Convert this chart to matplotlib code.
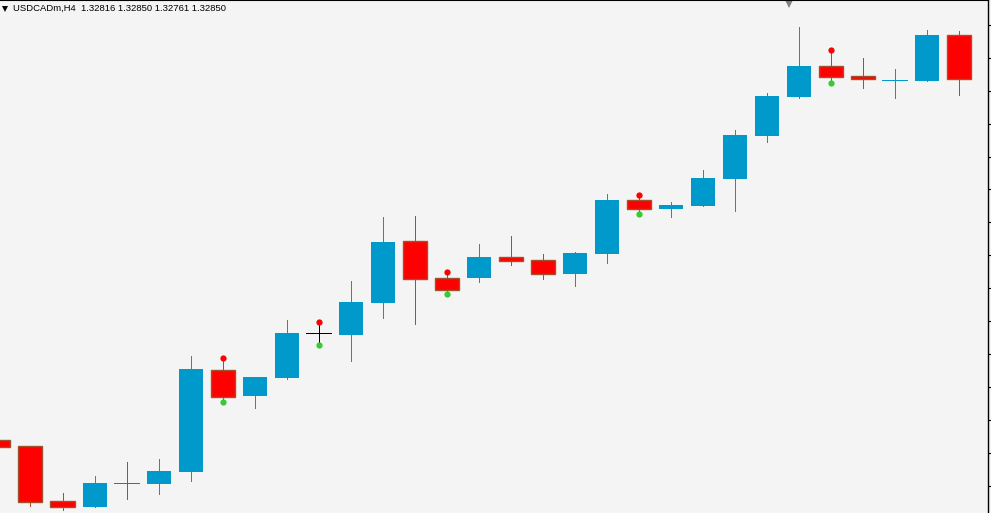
import numpy as np
import matplotlib.pyplot as plt

# USDCADm H4 bars (price)
opens = [1.31738, 1.31720, 1.31553, 1.31535, 1.31608, 1.31605, 1.31641, 1.31951,
         1.31872, 1.31927, 1.32063, 1.32058, 1.32155, 1.32343, 1.32231, 1.32231,
         1.32295, 1.32286, 1.32243, 1.32304, 1.32468, 1.32441, 1.32450, 1.32532,
         1.32663, 1.32781, 1.32875, 1.32845, 1.32831, 1.32830, 1.32970]
highs = [1.31742, 1.31720, 1.31577, 1.31629, 1.31672, 1.31681, 1.31994, 1.31979,
         1.31930, 1.32103, 1.32088, 1.32222, 1.32416, 1.32419, 1.32240, 1.32334,
         1.32359, 1.32304, 1.32310, 1.32486, 1.32474, 1.32462, 1.32559, 1.32681,
         1.32793, 1.32994, 1.32915, 1.32900, 1.32866, 1.32985, 1.32982]
lows = [1.31712, 1.31538, 1.31526, 1.31535, 1.31559, 1.31574, 1.31614, 1.31863,
        1.31836, 1.31924, 1.32036, 1.31979, 1.32109, 1.32091, 1.32192, 1.32219,
        1.32270, 1.32228, 1.32207, 1.32276, 1.32435, 1.32416, 1.32450, 1.32435,
        1.32644, 1.32778, 1.32833, 1.32808, 1.32778, 1.32830, 1.32787]
closes = [1.31717, 1.31550, 1.31535, 1.31608, 1.31607, 1.31644, 1.31954, 1.31869,
          1.31930, 1.32064, 1.32063, 1.32158, 1.32340, 1.32228, 1.32194, 1.32295,
          1.32283, 1.32243, 1.32307, 1.32468, 1.32441, 1.32453, 1.32535, 1.32666,
          1.32784, 1.32875, 1.32842, 1.32836, 1.32833, 1.32970, 1.32836]
# bars flagged by the indicator (dot above high, dot below low)
flagged = [7, 10, 14, 20, 26]

title = "USDCADm,H4  1.32816 1.32850 1.32761 1.32850"
price_ticks = np.round(np.arange(1.316, 1.33001, 0.001), 3)

BG = "#f4f4f4"
BULL = "#0099cc"
BEAR = "#ff0000"
BEAR_EDGE = "#a0522d"
DOJI = "#000000"

o = np.array(opens)
h = np.array(highs)
l = np.array(lows)
c = np.array(closes)
x = np.arange(len(o))

fig = plt.figure(figsize=(9.91, 5.13), dpi=100, facecolor=BG)
ax = fig.add_axes([0, 0, 988 / 991, 1])
ax.set_facecolor(BG)

body_w = 0.75
tiny = 0.00003  # bodies smaller than this are drawn as crosses
lw = 0.72  # one pixel

for i in x:
    bull = c[i] > o[i]
    if c[i] == o[i]:
        col = DOJI
    elif bull:
        col = BULL
    else:
        col = BEAR_EDGE
    ax.vlines(i, l[i], h[i], color=col, linewidth=lw, antialiased=False, zorder=2)
    if abs(c[i] - o[i]) < tiny:
        ax.hlines((o[i] + c[i]) / 2, i - 0.39, i + 0.39, color=col, linewidth=lw,
                  antialiased=False, zorder=3)
    elif bull:
        ax.bar(i, c[i] - o[i], bottom=o[i], width=body_w, color=BULL,
               linewidth=0, zorder=3)
    else:
        ax.bar(i, o[i] - c[i], bottom=c[i], width=body_w, color=BEAR,
               edgecolor=BEAR_EDGE, linewidth=1.0, zorder=3)

off = 0.00009
ax.plot(x[flagged], h[flagged] + off, "o", color="#ff0000", ms=4.5, mew=0, zorder=4)
ax.plot(x[flagged], l[flagged] - off, "o", color="#33cc33", ms=4.5, mew=0, zorder=4)

ax.set_xlim(0.047, 30.92)
ax.set_ylim(1.315165, 1.33076)

for s in ["left", "bottom"]:
    ax.spines[s].set_visible(False)
ax.spines["top"].set_linewidth(1.5)
ax.spines["right"].set_linewidth(1.0)
ax.set_xticks([])
ax.yaxis.tick_right()
ax.set_yticks(price_ticks)
ax.tick_params(axis="y", direction="out", length=2.5, width=0.8, labelright=False)

# header and chart shift marker
ax.plot([0.0048], [0.983], "v", color="black", ms=4, mew=0, transform=ax.transAxes,
        clip_on=False)
ax.text(0.0135, 0.983, title, transform=ax.transAxes, fontsize=6.8,
        family="Liberation Sans", va="center", ha="left")
ax.plot([789 / 988], [0.994], "v", color="#808080", ms=7, mew=0,
        transform=ax.transAxes, clip_on=False)

fig.savefig("out.png", dpi=100, facecolor=BG)
